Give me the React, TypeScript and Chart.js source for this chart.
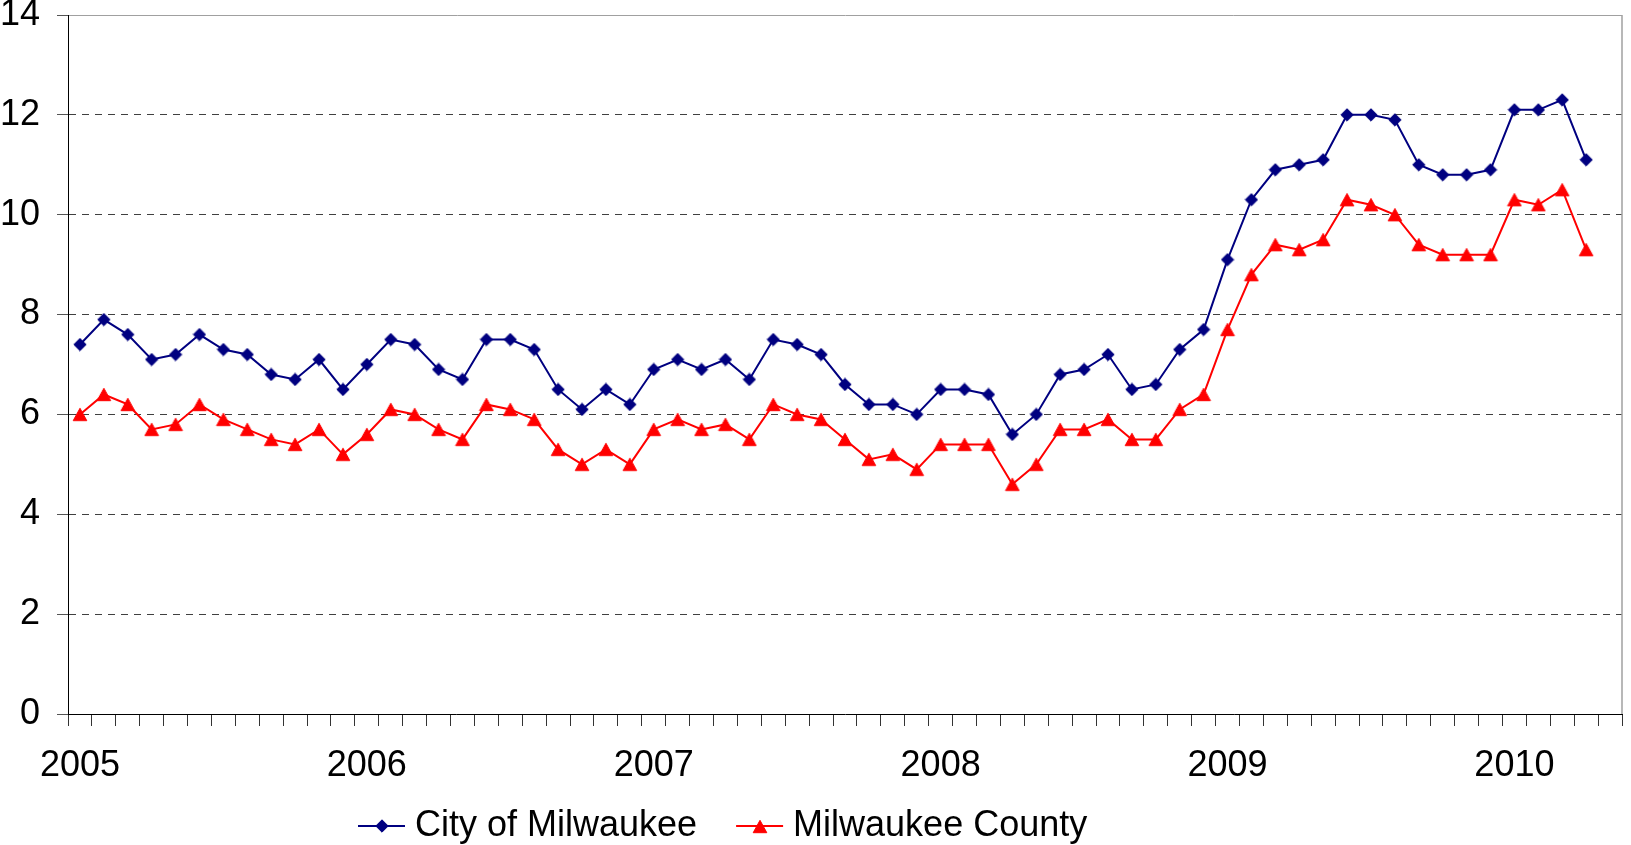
import React, { useEffect, useRef } from 'react';
import { Chart, registerables } from 'chart.js';

Chart.register(...registerables);

const FONT_FAMILY = "'Liberation Sans', Arial, Helvetica, sans-serif";

// Monthly categories Jan 2005 .. May 2010 (last slot empty)
const years = ['2005', '2006', '2007', '2008', '2009', '2010'];
const monthNums = ['01', '02', '03', '04', '05', '06', '07', '08', '09', '10', '11', '12'];
const categories: string[] = [];
years.forEach((y) => monthNums.forEach((m) => categories.push(`${y}-${m}`)));
categories.length = 65;

const cityOfMilwaukee = [
  7.4, 7.9, 7.6, 7.1, 7.2, 7.6, 7.3, 7.2, 6.8, 6.7, 7.1, 6.5,
  7.0, 7.5, 7.4, 6.9, 6.7, 7.5, 7.5, 7.3, 6.5, 6.1, 6.5, 6.2,
  6.9, 7.1, 6.9, 7.1, 6.7, 7.5, 7.4, 7.2, 6.6, 6.2, 6.2, 6.0,
  6.5, 6.5, 6.4, 5.6, 6.0, 6.8, 6.9, 7.2, 6.5, 6.6, 7.3, 7.7,
  9.1, 10.3, 10.9, 11.0, 11.1, 12.0, 12.0, 11.9, 11.0, 10.8, 10.8, 10.9,
  12.1, 12.1, 12.3, 11.1,
];

const milwaukeeCounty = [
  6.0, 6.4, 6.2, 5.7, 5.8, 6.2, 5.9, 5.7, 5.5, 5.4, 5.7, 5.2,
  5.6, 6.1, 6.0, 5.7, 5.5, 6.2, 6.1, 5.9, 5.3, 5.0, 5.3, 5.0,
  5.7, 5.9, 5.7, 5.8, 5.5, 6.2, 6.0, 5.9, 5.5, 5.1, 5.2, 4.9,
  5.4, 5.4, 5.4, 4.6, 5.0, 5.7, 5.7, 5.9, 5.5, 5.5, 6.1, 6.4,
  7.7, 8.8, 9.4, 9.3, 9.5, 10.3, 10.2, 10.0, 9.4, 9.2, 9.2, 9.2,
  10.3, 10.2, 10.5, 9.3,
];

const seriesLabels = ['City of Milwaukee', 'Milwaukee County'];
const seriesColors = ['#000080', '#ff0000'];
const yTicks = { min: 0, max: 14, step: 2 };

function makeMarker(kind: 'diamond' | 'triangle', color: string): HTMLCanvasElement {
  const c = document.createElement('canvas');
  const w = kind === 'diamond' ? 14 : 16;
  const h = kind === 'diamond' ? 14 : 15;
  c.width = w;
  c.height = h;
  const ctx = c.getContext('2d')!;
  ctx.fillStyle = color;
  ctx.strokeStyle = color;
  ctx.lineWidth = 1;
  ctx.beginPath();
  if (kind === 'diamond') {
    const cx = w / 2, cy = h / 2, r = 6.2;
    ctx.moveTo(cx - r, cy);
    ctx.lineTo(cx, cy - r);
    ctx.lineTo(cx + r, cy);
    ctx.lineTo(cx, cy + r);
  } else {
    const cx = w / 2, cy = h / 2, hw = 6.8, hh = 6.2;
    ctx.moveTo(cx, cy - hh);
    ctx.lineTo(cx + hw, cy + hh);
    ctx.lineTo(cx - hw, cy + hh);
  }
  ctx.closePath();
  ctx.fill();
  ctx.stroke();
  return c;
}

const legendLayout = { startX: 358, fromBottom: 19, lineLen: 47, textGap: 10, itemGap: 39 };

const customLegend = {
  id: 'customLegend',
  afterDraw(chart: any) {
    const ctx: CanvasRenderingContext2D = chart.ctx;
    ctx.save();
    ctx.font = `36px ${FONT_FAMILY}`;
    ctx.textBaseline = 'middle';
    ctx.textAlign = 'left';
    let x = legendLayout.startX;
    const y = chart.height - legendLayout.fromBottom;
    chart.data.datasets.forEach((ds: any) => {
      ctx.strokeStyle = ds.borderColor;
      ctx.lineWidth = 2;
      ctx.beginPath();
      ctx.moveTo(x, y);
      ctx.lineTo(x + legendLayout.lineLen, y);
      ctx.stroke();
      const img: HTMLCanvasElement = ds.pointStyle;
      const mx = x + legendLayout.lineLen / 2;
      ctx.drawImage(img, Math.round(mx - img.width / 2), Math.round(y - img.height / 2));
      x += legendLayout.lineLen + legendLayout.textGap;
      ctx.fillStyle = '#000';
      ctx.fillText(ds.label, x, y);
      x += ctx.measureText(ds.label).width + legendLayout.itemGap;
    });
    ctx.restore();
  },
};

const plotBorder = {
  id: 'plotBorder',
  afterDatasetsDraw(chart: any) {
    const { ctx, chartArea } = chart;
    ctx.save();
    ctx.strokeStyle = '#a0a0a0';
    ctx.lineWidth = 1.5;
    ctx.beginPath();
    ctx.moveTo(chartArea.right, chartArea.top);
    ctx.lineTo(chartArea.right, chartArea.bottom);
    ctx.stroke();
    ctx.restore();
  },
};

export default function App() {
  const canvasRef = useRef<HTMLCanvasElement | null>(null);

  useEffect(() => {
    if (!canvasRef.current) return;
    Chart.defaults.font.family = FONT_FAMILY;
    const diamond = makeMarker('diamond', seriesColors[0]);
    const triangle = makeMarker('triangle', seriesColors[1]);
    const chart = new Chart(canvasRef.current, {
      type: 'line',
      data: {
        labels: categories,
        datasets: [
          {
            label: seriesLabels[0],
            data: cityOfMilwaukee,
            borderColor: seriesColors[0],
            backgroundColor: seriesColors[0],
            pointBackgroundColor: seriesColors[0],
            pointBorderColor: seriesColors[0],
            pointStyle: diamond,
            pointRadius: 7,
            borderWidth: 2,
            tension: 0,
          },
          {
            label: seriesLabels[1],
            data: milwaukeeCounty,
            borderColor: seriesColors[1],
            backgroundColor: seriesColors[1],
            pointBackgroundColor: seriesColors[1],
            pointBorderColor: seriesColors[1],
            pointStyle: triangle,
            pointRadius: 7,
            borderWidth: 2,
            tension: 0,
          },
        ],
      },
      options: {
        responsive: false,
        animation: false,
        layout: { padding: { top: 15, right: 3, left: 0, bottom: 0 } },
        plugins: { legend: { display: false }, tooltip: { enabled: false } },
        scales: {
          x: {
            type: 'category',
            offset: true,
            grid: {
              offset: true,
              drawOnChartArea: false,
              drawTicks: true,
              tickLength: 12,
              tickColor: '#333333',
              tickWidth: 1,
            },
            border: { display: true, color: '#000000', width: 1 },
            ticks: {
              autoSkip: false,
              maxRotation: 0,
              minRotation: 0,
              padding: 18,
              color: '#000000',
              font: { size: 36, family: FONT_FAMILY },
              callback: (_v: any, i: number) => {
                const c = categories[i];
                return c && c.endsWith('-01') ? c.slice(0, 4) : '';
              },
            },
            afterFit: (s: any) => {
              s.height = 131;
              s.paddingLeft = 0;
              s.paddingRight = 0;
            },
          },
          y: {
            min: yTicks.min,
            max: yTicks.max,
            ticks: {
              stepSize: yTicks.step,
              padding: 17,
              color: '#000000',
              font: { size: 36, family: FONT_FAMILY },
            },
            grid: {
              color: (c: any) => {
                const v = c.tick ? c.tick.value : -1;
                if (v === yTicks.min) return 'rgba(0,0,0,0)';
                if (v === yTicks.max) return '#a0a0a0';
                return '#404040';
              },
              lineWidth: 1,
              drawTicks: true,
              tickLength: 11,
              tickColor: '#555555',
            },
            border: {
              display: true,
              color: '#000000',
              width: 1,
              dash: (c: any) => (c.tick && c.tick.value === yTicks.max ? [] : [7, 6]),
            },
            afterFit: (s: any) => {
              s.width = 68;
              s.paddingTop = 0;
              s.paddingBottom = 0;
            },
          },
        },
      },
      plugins: [plotBorder, customLegend],
    } as any);
    return () => chart.destroy();
  }, []);

  return (
    <div style={{ position: 'fixed', left: 0, top: 0, width: 1631, height: 845, background: '#fff' }}>
      <canvas ref={canvasRef} width={1631} height={845} style={{ display: 'block' }} />
    </div>
  );
}
